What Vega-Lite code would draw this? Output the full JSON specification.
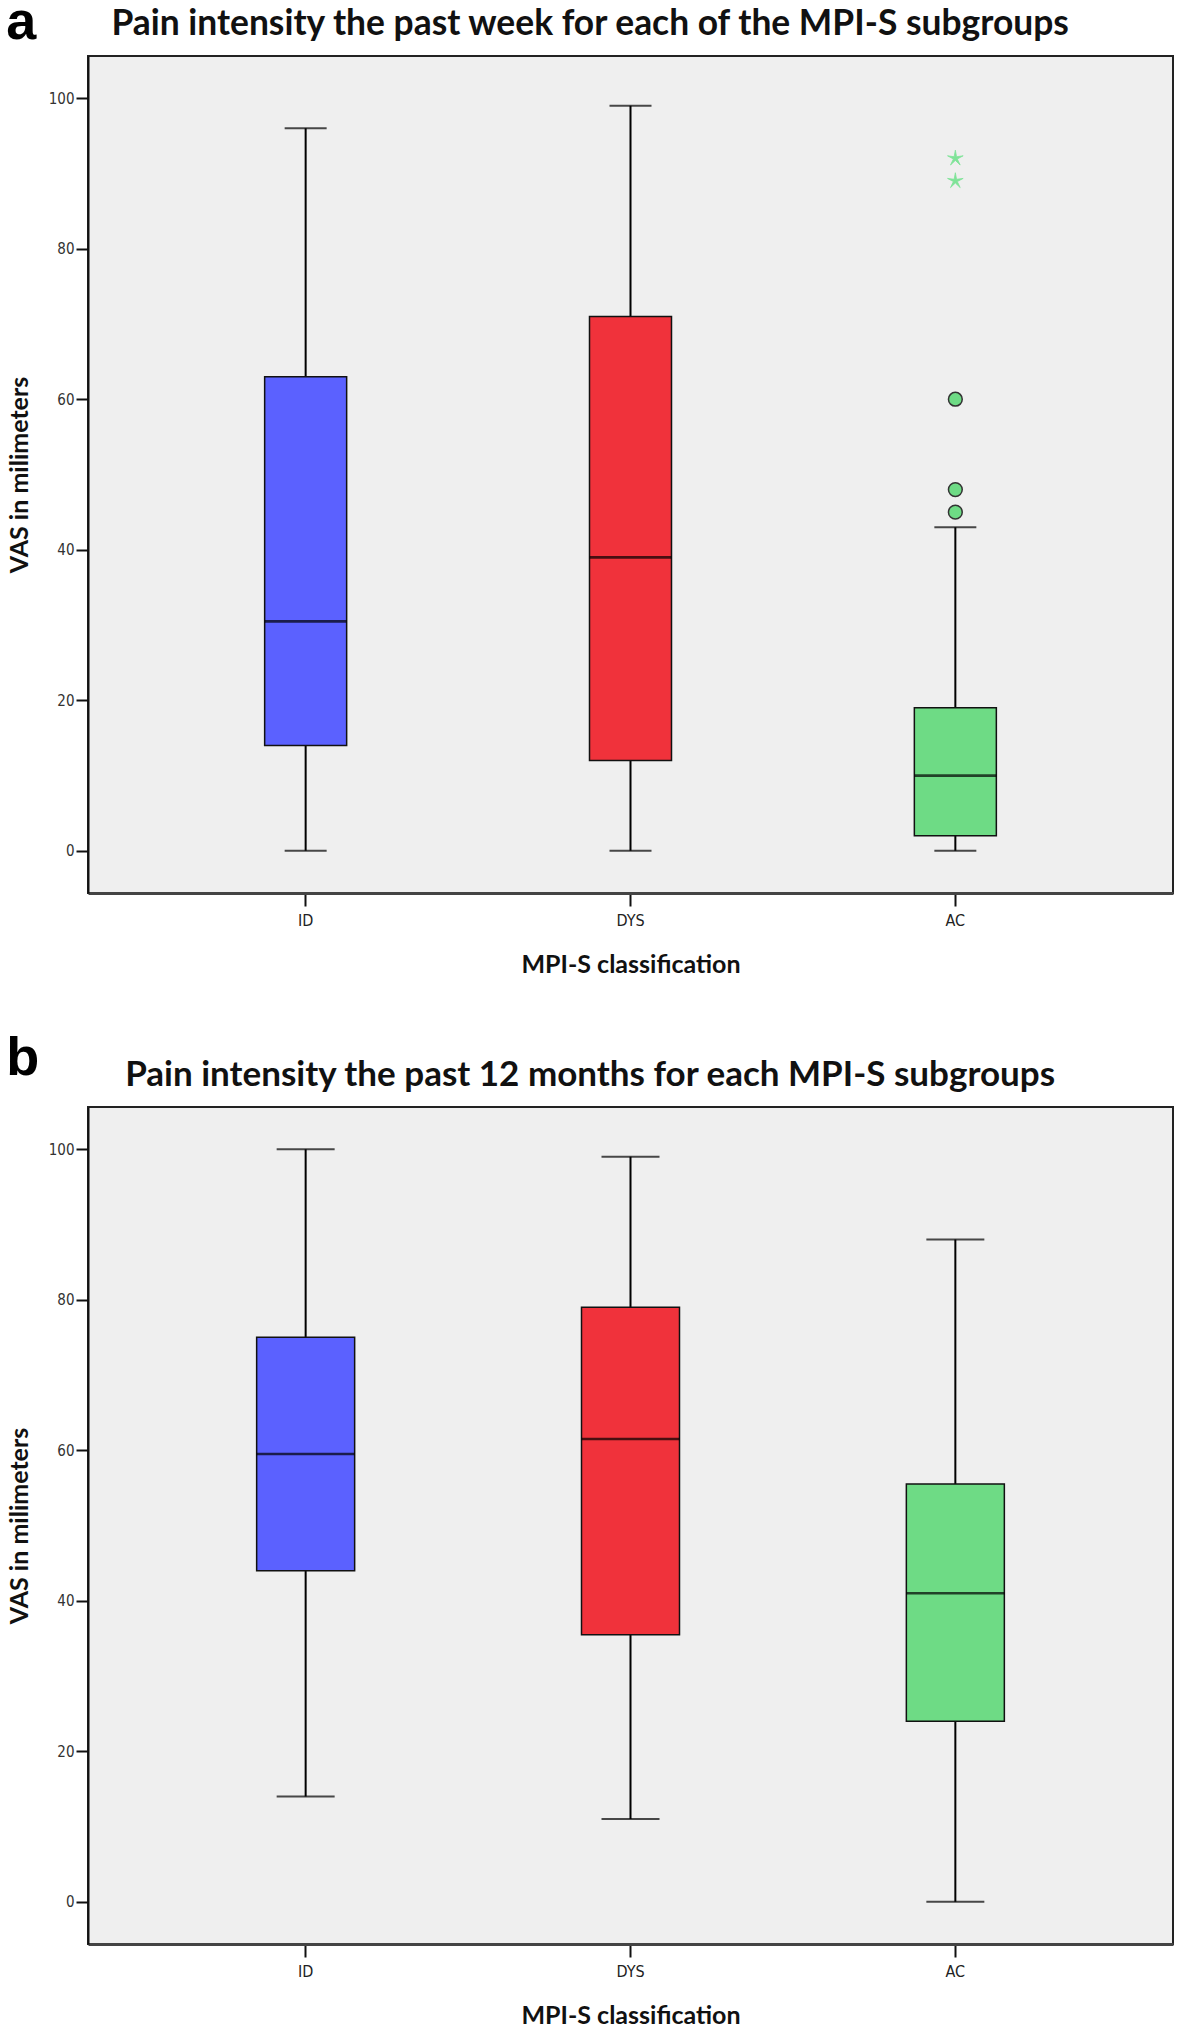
{
  "$schema": "https://vega.github.io/schema/vega-lite/v6.json",
  "padding": {"left": 6, "top": -5, "right": 5, "bottom": 0},
  "background": "white",
  "spacing": 54,
  "datasets": {
    "week": [
      {"group": "ID", "lower": 0, "q1": 14, "median": 30.5, "q3": 63, "upper": 96},
      {"group": "DYS", "lower": 0, "q1": 12, "median": 39, "q3": 71, "upper": 99},
      {"group": "AC", "lower": 0, "q1": 2, "median": 10, "q3": 19, "upper": 43}
    ],
    "weekOutliers": [
      {"group": "AC", "value": 60},
      {"group": "AC", "value": 48},
      {"group": "AC", "value": 45}
    ],
    "weekExtremes": [
      {"group": "AC", "value": 92},
      {"group": "AC", "value": 89}
    ],
    "year": [
      {"group": "ID", "lower": 14, "q1": 44, "median": 59.5, "q3": 75, "upper": 100},
      {"group": "DYS", "lower": 11, "q1": 35.5, "median": 61.5, "q3": 79, "upper": 99},
      {"group": "AC", "lower": 0, "q1": 24, "median": 41, "q3": 55.5, "upper": 88}
    ]
  },
  "vconcat": [
    {
      "title": {"text": "a", "anchor": "start", "frame": "bounds", "orient": "top", "font": "Liberation Sans", "fontSize": 54, "fontWeight": "bold", "color": "#000", "baseline": "alphabetic", "offset": -87},
      "vconcat": [
        {
          "width": 1085,
          "height": 837,
          "title": {"text": "Pain intensity the past week for each of the MPI-S subgroups", "anchor": "middle", "frame": "bounds", "font": "Lato", "fontSize": 35.4, "fontWeight": "bold", "color": "#111", "baseline": "alphabetic", "offset": -14},
          "data": {"name": "week"},
          "encoding": {
            "x": {"field": "group", "type": "nominal", "sort": ["ID", "DYS", "AC"], "scale": {"type": "band", "paddingOuter": 0.17, "paddingInner": 0}, "axis": {"title": "MPI-S classification"}}
          },
          "layer": [
            {
              "mark": {"type": "rule", "color": "#000", "strokeWidth": 2},
              "encoding": {
                "y": {"field": "lower", "type": "quantitative", "scale": {"domain": [-5.6, 105.6], "nice": false, "zero": false}, "axis": {"title": "VAS in milimeters", "values": [0, 20, 40, 60, 80, 100]}},
                "y2": {"field": "upper"}
              }
            },
            {
              "mark": {"type": "tick", "color": "#000", "thickness": 2, "size": 42},
              "encoding": {"y": {"field": "lower", "type": "quantitative", "scale": {"domain": [-5.6, 105.6], "nice": false, "zero": false}, "axis": {"title": "VAS in milimeters", "values": [0, 20, 40, 60, 80, 100]}}}
            },
            {
              "mark": {"type": "tick", "color": "#000", "thickness": 2, "size": 42},
              "encoding": {"y": {"field": "upper", "type": "quantitative", "scale": {"domain": [-5.6, 105.6], "nice": false, "zero": false}, "axis": {"title": "VAS in milimeters", "values": [0, 20, 40, 60, 80, 100]}}}
            },
            {
              "mark": {"type": "bar", "size": 82, "stroke": "#111", "strokeWidth": 1.5},
              "encoding": {
                "y": {"field": "q1", "type": "quantitative", "scale": {"domain": [-5.6, 105.6], "nice": false, "zero": false}, "axis": {"title": "VAS in milimeters", "values": [0, 20, 40, 60, 80, 100]}},
                "y2": {"field": "q3"},
                "color": {"field": "group", "type": "nominal", "scale": {"domain": ["ID", "DYS", "AC"], "range": ["#5b61ff", "#f0323b", "#6edb85"]}, "legend": null}
              }
            },
            {
              "mark": {"type": "tick", "color": "#000", "thickness": 2.8, "size": 82},
              "encoding": {"y": {"field": "median", "type": "quantitative", "scale": {"domain": [-5.6, 105.6], "nice": false, "zero": false}, "axis": {"title": "VAS in milimeters", "values": [0, 20, 40, 60, 80, 100]}}}
            },
            {
              "data": {"name": "weekOutliers"},
              "mark": {"type": "point", "shape": "circle", "filled": true, "fill": "#6edb85", "stroke": "#333", "strokeWidth": 1.5, "size": 190, "opacity": 1},
              "encoding": {"y": {"field": "value", "type": "quantitative", "scale": {"domain": [-5.6, 105.6], "nice": false, "zero": false}, "axis": {"title": "VAS in milimeters", "values": [0, 20, 40, 60, 80, 100]}}}
            },
            {
              "data": {"name": "weekExtremes"},
              "mark": {"type": "point", "shape": "M0,-1L0.147,-0.202L0.951,-0.309L0.238,0.077L0.588,0.809L0,0.25L-0.588,0.809L-0.238,0.077L-0.951,-0.309L-0.147,-0.202Z", "filled": true, "fill": "#7fe398", "stroke": "#7fe398", "strokeWidth": 0.8, "size": 270, "opacity": 1},
              "encoding": {"y": {"field": "value", "type": "quantitative", "scale": {"domain": [-5.6, 105.6], "nice": false, "zero": false}, "axis": {"title": "VAS in milimeters", "values": [0, 20, 40, 60, 80, 100]}}}
            }
          ]
        }
      ]
    },
    {
      "title": {"text": "b", "anchor": "start", "frame": "bounds", "orient": "top", "font": "Liberation Sans", "fontSize": 54, "fontWeight": "bold", "color": "#000", "baseline": "alphabetic", "offset": -72},
      "vconcat": [
        {
          "width": 1085,
          "height": 837,
          "title": {"text": "Pain intensity the past 12 months for each MPI-S subgroups", "anchor": "middle", "frame": "bounds", "font": "Lato", "fontSize": 35, "fontWeight": "bold", "color": "#111", "baseline": "alphabetic", "offset": -14},
          "data": {"name": "year"},
          "encoding": {
            "x": {"field": "group", "type": "nominal", "sort": ["ID", "DYS", "AC"], "scale": {"type": "band", "paddingOuter": 0.17, "paddingInner": 0}, "axis": {"title": "MPI-S classification"}}
          },
          "layer": [
            {
              "mark": {"type": "rule", "color": "#000", "strokeWidth": 2},
              "encoding": {
                "y": {"field": "lower", "type": "quantitative", "scale": {"domain": [-5.6, 105.6], "nice": false, "zero": false}, "axis": {"title": "VAS in milimeters", "values": [0, 20, 40, 60, 80, 100]}},
                "y2": {"field": "upper"}
              }
            },
            {
              "mark": {"type": "tick", "color": "#000", "thickness": 2, "size": 58},
              "encoding": {"y": {"field": "lower", "type": "quantitative", "scale": {"domain": [-5.6, 105.6], "nice": false, "zero": false}, "axis": {"title": "VAS in milimeters", "values": [0, 20, 40, 60, 80, 100]}}}
            },
            {
              "mark": {"type": "tick", "color": "#000", "thickness": 2, "size": 58},
              "encoding": {"y": {"field": "upper", "type": "quantitative", "scale": {"domain": [-5.6, 105.6], "nice": false, "zero": false}, "axis": {"title": "VAS in milimeters", "values": [0, 20, 40, 60, 80, 100]}}}
            },
            {
              "mark": {"type": "bar", "size": 98, "stroke": "#111", "strokeWidth": 1.5},
              "encoding": {
                "y": {"field": "q1", "type": "quantitative", "scale": {"domain": [-5.6, 105.6], "nice": false, "zero": false}, "axis": {"title": "VAS in milimeters", "values": [0, 20, 40, 60, 80, 100]}},
                "y2": {"field": "q3"},
                "color": {"field": "group", "type": "nominal", "scale": {"domain": ["ID", "DYS", "AC"], "range": ["#5b61ff", "#f0323b", "#6edb85"]}, "legend": null}
              }
            },
            {
              "mark": {"type": "tick", "color": "#000", "thickness": 2.4, "size": 98},
              "encoding": {"y": {"field": "median", "type": "quantitative", "scale": {"domain": [-5.6, 105.6], "nice": false, "zero": false}, "axis": {"title": "VAS in milimeters", "values": [0, 20, 40, 60, 80, 100]}}}
            }
          ]
        }
      ]
    }
  ],
  "config": {
    "view": {"stroke": "#222", "strokeWidth": 2, "fill": "#efefef"},
    "axisY": {"grid": false, "domain": true, "domainColor": "#111", "domainWidth": 2, "tickColor": "#111", "tickWidth": 2, "tickSize": 12, "labelFont": "DejaVu Sans Condensed, Liberation Sans, sans-serif", "labelFontSize": 15, "labelColor": "#333", "labelPadding": 2, "titleFont": "Lato", "titleFontSize": 25, "titleFontWeight": "bold", "titleColor": "#111", "titlePadding": 16},
    "axisX": {"labelAngle": 0, "grid": false, "domain": true, "domainColor": "#444", "domainWidth": 3, "tickColor": "#111", "tickWidth": 2, "tickSize": 13, "labelFont": "DejaVu Sans Condensed, Liberation Sans, sans-serif", "labelFontSize": 16, "labelColor": "#222", "labelPadding": 6, "titleFont": "Lato", "titleFontSize": 25, "titleFontWeight": "bold", "titleColor": "#111", "titlePadding": 24}
  }
}
